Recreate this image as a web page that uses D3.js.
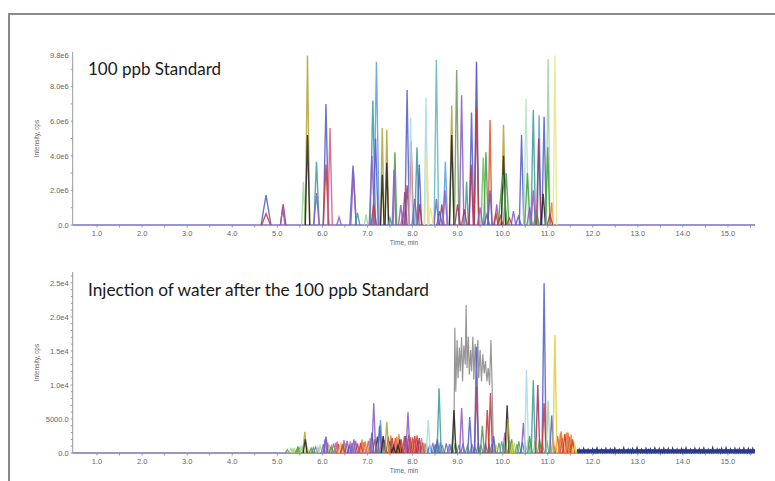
<!DOCTYPE html>
<html><head><meta charset="utf-8">
<script src="https://cdn.jsdelivr.net/npm/d3@7/dist/d3.min.js"></script>
<style>body{margin:0;background:#fff}svg{display:block}</style>
</head><body><svg id="c" width="775" height="481"></svg>
<script>
// ---------- data ----------
const xTicks = [1,2,3,4,5,6,7,8,9,10,11,12,13,14,15];
const xTickLabels = ["1.0","2.0","3.0","4.0","5.0","6.0","7.0","8.0","9.0","10.0","11.0","12.0","13.0","14.0","15.0"];
const topYTicks = [0, 2e6, 4e6, 6e6, 8e6, 9.8e6];
const topYTickLabels = ["0.0","2.0e6","4.0e6","6.0e6","8.0e6","9.8e6"];
const botYTicks = [0, 5000, 10000, 15000, 20000, 25000];
const botYTickLabels = ["0.0","5000.0","1.0e4","1.5e4","2.0e4","2.5e4"];

const topTitle = "100 ppb Standard";
const botTitle = "Injection of water after the 100 ppb Standard";

// top panel peaks: retention time (min), height (cps), colour key, half-width (min)
const topTime = [4.75,4.75,5.13,5.12,5.58,5.67,5.67,5.87,5.87,6.08,6.08,6.17,6.37,6.68,6.69,6.78,6.97,
  7.12,7.20,7.18,7.10,7.14,7.33,7.33,7.43,7.43,7.50,7.61,7.59,7.74,7.83,7.88,7.88,7.97,7.96,8.10,8.15,8.16,
  8.30,8.32,8.53,8.53,8.65,8.73,8.72,8.87,8.87,8.98,9.09,9.20,9.31,9.30,9.42,9.42,9.57,9.63,9.72,9.72,9.87,9.85,
  10.02,10.02,10.00,10.08,10.24,10.42,10.52,10.55,10.68,10.68,10.81,10.80,10.92,10.90,11.01,11.00,11.09,11.16,
  7.80,8.05,8.40,8.60,9.00,9.15,9.50,9.65,9.95,10.15,10.35,10.60,10.75,11.05];
const topHeight = [1.73e6,0.65e6,1.2e6,1.0e6,2.5e6,9.8e6,5.2e6,3.66e6,1.85e6,7.0e6,3.5e6,5.6e6,0.45e6,3.43e6,3.1e6,0.7e6,0.6e6,
  7.2e6,9.44e6,5.0e6,4.0e6,1.2e6,5.6e6,2.9e6,5.5e6,3.6e6,0.4e6,4.2e6,3.2e6,1.15e6,1.9e6,7.8e6,2.3e6,4.8e6,6.2e6,4.5e6,3.5e6,1.2e6,
  7.35e6,3.95e6,9.55e6,1.5e6,1.2e6,3.66e6,2.0e6,6.9e6,5.2e6,8.96e6,7.5e6,2.5e6,6.5e6,3.5e6,9.44e6,6.8e6,3.9e6,4.2e6,6.07e6,2.0e6,1.2e6,0.7e6,
  5.8e6,4.0e6,2.9e6,3.0e6,0.8e6,5.2e6,7.3e6,3.0e6,6.65e6,2.0e6,6.35e6,5.0e6,6.26e6,1.8e6,9.6e6,4.5e6,1.3e6,9.8e6,
  0.8e6,1.5e6,1.0e6,0.8e6,1.2e6,0.9e6,1.0e6,0.6e6,0.5e6,0.4e6,0.5e6,1.0e6,0.8e6,0.6e6];
const topColor = ["blue","red","crimson","purple","ltgreen","olive","black","teal","purple","blue","red","pink","purple","blue","purple","teal","ltgreen",
  "teal","ltblue","blue","purple","red","olive","black","olive","black","teal","green","purple","purple","crimson","blue","crimson","red","ltcyan","teal","blue","crimson",
  "ltcyan","ltyellow","cyanteal","purple","crimson","ltblue","purple","olive","black","sage","purple","teal","blue","crimson","navyblue","red","ltgreen2","green","orangered","blue","purple","red",
  "olive","black","green","green","purple","blue","mint","green","teal","purple","ltblue","crimson","blue","black","ltgreen","green","orange","ltyellow",
  "purple","purple","ltyellow","blue","crimson","crimson","purple","blue","red","red","blue","purple","green","crimson"];
const topWidth = [0.11,0.10,0.06,0.05,0.04,0.05,0.05,0.06,0.06,0.06,0.06,0.05,0.05,0.07,0.06,0.05,0.04,
  0.06,0.06,0.06,0.06,0.06,0.04,0.04,0.04,0.04,0.04,0.04,0.04,0.05,0.05,0.05,0.05,0.05,0.04,0.05,0.05,0.05,
  0.04,0.05,0.05,0.05,0.05,0.05,0.05,0.05,0.05,0.05,0.05,0.04,0.05,0.05,0.05,0.05,0.05,0.05,0.04,0.05,0.05,0.05,
  0.05,0.05,0.10,0.06,0.05,0.05,0.05,0.06,0.05,0.05,0.04,0.05,0.05,0.05,0.04,0.05,0.04,0.04,
  0.06,0.06,0.06,0.06,0.06,0.06,0.06,0.06,0.06,0.06,0.06,0.06,0.06,0.06];

// bottom panel peaks
const botTime = [5.35,5.45,5.55,5.75,5.90,5.61,5.62,6.08,6.06,6.20,6.30,6.40,6.45,6.55,6.60,6.70,6.85,6.95,
  7.14,7.10,7.29,7.27,7.35,7.43,7.55,7.65,7.75,7.85,7.95,8.05,8.15,8.25,7.58,7.68,7.90,
  8.35,8.59,8.55,8.92,9.09,9.27,9.42,9.42,9.55,9.66,9.73,9.80,10.05,10.10,10.12,10.20,10.22,
  10.46,10.53,10.60,10.68,10.78,10.92,10.92,11.01,11.09,11.16,11.30,11.38,11.45,11.55,11.60];
const botHeight = [600,800,900,700,800,3100,2000,2400,2000,1000,1500,1100,1300,1800,1200,2000,1500,1700,
  7300,3000,4850,4000,2500,4600,2200,2400,2000,2500,2300,2500,2200,1500,1000,1100,6000,
  4850,9500,2000,6300,6600,5300,9750,15600,4000,6300,8800,2500,3000,7000,5000,2000,1500,
  4400,12200,2500,10700,10000,24950,7300,7700,5500,17350,3200,2800,3000,2000,1200];
const botColor = ["ltgreen","green","ltgreen","green","ltgreen","olive","black","blue","purple","green","pink","yellow","red","purple","blue","purple","red","orange",
  "purple","blue","ltblue","blue","black","olive","red","orange","red","crimson","red","red","crimson","orange","black","black","purple",
  "ltcyan","teal","blue","black","purple","blue","red","blue","green","red","red","blue","purple","black","olive","green","yellow",
  "purple","ltcyan","green","teal","crimson","blue","red","ltgreen","blue","yellow","orange","red","orange","red","yellow"];

// low-level multicoloured background in the water injection
const clutterTime = [5.22,5.30,5.38,5.48,5.52,5.66,5.80,5.85,5.95,6.02,6.12,6.16,6.25,6.33,6.36,6.42,6.48,6.52,6.62,6.66,6.74,6.78,6.88,6.92,
  7.02,7.06,7.16,7.22,7.32,7.38,7.46,7.50,7.52,7.62,7.70,7.72,7.82,7.88,7.92,8.00,8.02,8.10,8.12,8.20,8.22,8.30,8.38,8.45,8.48,8.52,
  8.62,8.66,8.75,8.82,8.85,8.95,9.03,9.12,9.22,9.32,9.38,9.46,9.52,9.62,9.70,9.76,9.85,9.92,9.98,10.06,10.16,10.26,10.32,10.36,10.44,
  10.56,10.62,10.72,10.82,10.88,10.98,11.12,11.22,11.28,11.32,11.42,11.48,11.52,11.58];
const clutterHeight = [500,700,650,800,900,1000,800,900,1100,1300,1500,1200,1400,1700,1300,1600,1900,1400,1700,1500,1800,1400,2000,1600,
  1800,2200,2000,2400,2300,1900,2400,1800,2600,2200,2800,2000,2500,2100,2700,2300,2000,2600,1800,2200,1500,1400,1200,1500,1100,1300,
  1600,1200,1400,1300,1100,1500,1200,1400,1100,1300,1000,1500,1200,1400,1100,1300,1200,1500,1700,1400,1800,1500,1300,1700,1600,
  1900,1500,1800,2000,1600,1900,2300,2500,2900,2200,3000,2400,2700,1800];
const clutterColor = ["green","ltgreen","yellow","green","ltgreen","yellow","green","purple","ltgreen","purple","pink","yellow","purple","pink","red","yellow","purple","orange","pink","blue","purple","red","orange","pink",
  "purple","orange","red","black","orange","purple","red","black","orange","red","orange","black","red","orange","crimson","red","orange","red","crimson","orange","blue","purple","blue","purple","teal","blue",
  "purple","green","blue","purple","teal","green","purple","blue","green","purple","teal","green","purple","blue","green","teal","yellow","green","teal","ltgreen","green","yellow","teal","green","blue",
  "ltgreen","teal","yellow","green","orange","teal","orange","red","orange","red","orange","red","orange","yellow"];

// grey noisy trace (time, cps) in the water injection
const greyTime = [8.88,8.92,8.94,8.96,8.99,9.01,9.04,9.06,9.09,9.11,9.14,9.17,9.19,9.21,9.24,9.26,9.29,9.31,9.34,9.36,9.39,9.42,9.45,9.47,9.50,9.53,9.56,9.59,9.62,9.65,9.68,9.71,9.74,9.77,9.79,9.82];
const greyValue = [0,3000,18400,9000,16600,11000,15500,12000,17000,10500,15800,13000,21760,12500,17100,11500,15150,12000,17100,10800,16000,12500,16600,11000,15150,10500,14500,11700,13500,10500,12500,10000,16600,9000,2000,0];

// navy baseline noise after 11.65 min (cps)
const navyValue = [300,520,260,610,340,480,220,560,400,650,280,500,360,590,240,540,420,620,300,470,350,660,270,520,440,580,310,690,380,500,260,600,450,540,330,640,290,560,410,620,
  350,580,270,630,320,510,240,570,430,660,300,490,380,610,260,550,400,640,310,480,360,700,280,530,450,590,330,670,370,520,290,610,440,560,340,650,300,580,420,600];

// ---------- style ----------
const palette = {
  olive:"#b3a43a", black:"#262626", blue:"#5660c6", navyblue:"#4452c0", purple:"#8c5ec2", red:"#c73a3e",
  crimson:"#a8345e", pink:"#d0628c", teal:"#3c9e9e", cyanteal:"#5cb8c0", ltcyan:"#a9dbe6", ltgreen:"#9fd59f",
  ltgreen2:"#66c266", green:"#45a045", sage:"#6c9a62", mint:"#b6e2c6", ltyellow:"#ebe389", yellow:"#e2cf3a",
  orange:"#ec7a2c", orangered:"#e05530", ltblue:"#5b9fe0", grey:"#8c8c8c", brown:"#9a6a3a"
};

const svg = d3.select("#c");
const W = 775, H = 481;

// frame
svg.append("line").attr("x1",9).attr("x2",W).attr("y1",14).attr("y2",14).attr("stroke","#8a8a8a").attr("stroke-width",2);
svg.append("line").attr("x1",9).attr("x2",9).attr("y1",13).attr("y2",H).attr("stroke","#8a8a8a").attr("stroke-width",2);

const x = d3.scaleLinear().domain([0.46, 15.6]).range([72.7, 755]);

function panel(cfg) {
  const y = d3.scaleLinear().domain(cfg.yDomain).range([cfg.y0, cfg.yTop]);
  const g = svg.append("g");
  const axisColor = "#9a9a9a";
  g.append("line").attr("x1",x.range()[0]).attr("x2",x.range()[0]).attr("y1",cfg.yTop).attr("y2",cfg.y0).attr("stroke",axisColor);
  g.selectAll(".ymin").data(d3.range(0, cfg.yDomain[1], cfg.minorY)).join("line")
    .attr("x1",x.range()[0]-2).attr("x2",x.range()[0]).attr("y1",d=>y(d)).attr("y2",d=>y(d)).attr("stroke",axisColor);
  g.selectAll(".ylab").data(cfg.yTicks).join("text")
    .attr("x",x.range()[0]-4).attr("y",d=>y(d)+2.8).attr("text-anchor","end")
    .attr("font-family","Liberation Sans, Arial, sans-serif").attr("font-size",7.5).attr("fill","#666")
    .text((d,i)=>cfg.yLabels[i]);
  g.append("text").attr("transform",`translate(39,${(cfg.yTop+cfg.y0)/2}) rotate(-90)`)
    .attr("text-anchor","middle").attr("font-family","Liberation Sans, Arial, sans-serif").attr("font-size",6.5).attr("fill","#666")
    .text("Intensity, cps");
  g.append("line").attr("x1",x.range()[0]).attr("x2",x.range()[1]).attr("y1",cfg.y0).attr("y2",cfg.y0).attr("stroke",axisColor);
  g.selectAll(".xmin").data(d3.range(1, 15.6, 0.5)).join("line")
    .attr("x1",d=>x(d)).attr("x2",d=>x(d)).attr("y1",cfg.y0).attr("y2",cfg.y0+2.5).attr("stroke",axisColor);
  g.selectAll(".xlab").data(xTicks).join("text")
    .attr("x",d=>x(d)).attr("y",cfg.y0+11).attr("text-anchor","middle")
    .attr("font-family","Liberation Sans, Arial, sans-serif").attr("font-size",7.5).attr("fill","#666")
    .text((d,i)=>xTickLabels[i]);
  g.append("text").attr("x",404).attr("y",cfg.y0+20).attr("text-anchor","middle")
    .attr("font-family","Liberation Sans, Arial, sans-serif").attr("font-size",6.5).attr("fill","#666").text("Time, min");
  g.append("text").attr("x",88).attr("y",cfg.titleY).attr("font-family","Lato, 'Open Sans', sans-serif")
    .attr("font-size",17).attr("fill","#1a1a1a").attr("textLength",cfg.titleLen).attr("lengthAdjust","spacingAndGlyphs").text(cfg.title);

  const line = d3.line().x(d=>x(d[0])).y(d=>y(d[1]));
  const tr = g.append("g");
  tr.append("path").attr("d", line([[x.domain()[0],0],[x.domain()[1],0]]))
    .attr("stroke", cfg.baseColor).attr("stroke-width",1.3).attr("fill","none");
  const drawPeaks = (times, heights, colors, widths, sw, op) => {
    times.forEach((t,i)=>{
      const w = widths ? widths[i] : 0.045;
      tr.append("path").attr("d", line([[t-w,0],[t,heights[i]],[t+w,0]]))
        .attr("stroke", palette[colors[i]]).attr("stroke-width",sw).attr("stroke-opacity",op).attr("fill","none");
    });
  };
  if (cfg.clutter) drawPeaks(cfg.clutter[0], cfg.clutter[1], cfg.clutter[2], null, 1.2, 0.85);
  cfg.extra && cfg.extra(tr, line, y);
  drawPeaks(cfg.time, cfg.height, cfg.color, cfg.width, 1.4, 0.88);
  return y;
}

panel({
  y0:225, yTop:52, yDomain:[0,1.0e7], minorY:1e6, yTicks:topYTicks, yLabels:topYTickLabels,
  title:topTitle, titleY:75, titleLen:133, baseColor:"#8a82d2",
  time:topTime, height:topHeight, color:topColor, width:topWidth
});

panel({
  y0:453, yTop:272, yDomain:[0,26600], minorY:1000, yTicks:botYTicks, yLabels:botYTickLabels,
  title:botTitle, titleY:296, titleLen:341, baseColor:"#8c86b8",
  time:botTime, height:botHeight, color:botColor,
  clutter:[clutterTime, clutterHeight, clutterColor],
  extra:(g, line, y)=>{
    const step = (15.6-11.65)/navyValue.length;
    const pts = [];
    navyValue.forEach((v,i)=>{ pts.push([11.65 + i*step, v]); pts.push([11.65 + (i+0.5)*step, 80]); });
    g.append("path").attr("d", line([[11.65,280],[15.6,280]])).attr("stroke","#24348a").attr("stroke-width",3.5).attr("fill","none");
    g.append("path").attr("d", line(pts)).attr("stroke","#2b3a8f").attr("stroke-width",1.6).attr("fill","none");
    g.append("path").attr("d", line(greyTime.map((t,i)=>[t, greyValue[i]])))
      .attr("stroke", palette.grey).attr("stroke-width",1.2).attr("fill","none").attr("stroke-opacity",0.9);
  }
});
</script></body></html>
